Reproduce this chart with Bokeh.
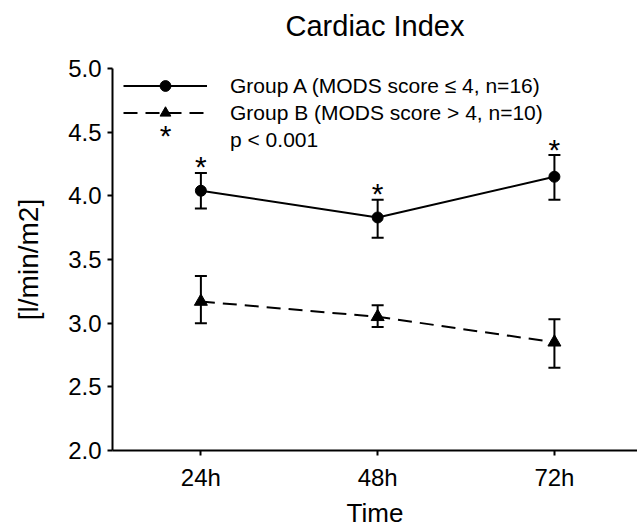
from bokeh.plotting import figure
from bokeh.models import (ColumnDataSource, Whisker, TeeHead, Legend, LegendItem,
                          FixedTicker, NumeralTickFormatter, Label, LinearAxis)
from bokeh.core.properties import value
from bokeh.embed import file_html
from bokeh.resources import INLINE

# ---- data ----
time_labels = ["24h", "48h", "72h"]
a_mean = [4.04, 3.83, 4.15]
a_upper = [4.18, 3.97, 4.32]
a_lower = [3.90, 3.67, 3.97]
b_mean = [3.17, 3.05, 2.85]
b_upper = [3.37, 3.14, 3.03]
b_lower = [3.00, 2.97, 2.65]
sig_marks = ["*", "*", "*"]
y_ticks = [2.0, 2.5, 3.0, 3.5, 4.0, 4.5, 5.0]
title_text = "Cardiac Index"
x_title = "Time"
y_title = "[l/min/m2]"
label_a = "Group A (MODS score \u2264 4, n=16)"
label_b = "Group B (MODS score > 4, n=10)"
label_sig = "p < 0.001"

FONT = "Liberation Sans"
x_pos = [i + 1 for i in range(len(time_labels))]

src_a = ColumnDataSource(dict(x=x_pos, y=a_mean, upper=a_upper, lower=a_lower, s=sig_marks))
src_b = ColumnDataSource(dict(x=x_pos, y=b_mean, upper=b_upper, lower=b_lower))

W, H = 637, 531
B_LEFT, B_TOP, B_BOTTOM = 112, 68, 81
FRAME_W = W - B_LEFT
FRAME_H = H - B_TOP - B_BOTTOM

p = figure(width=W, height=H, output_backend="svg", toolbar_location=None,
           x_range=(0.5, 3.47), y_range=(2.0, 5.0),
           min_border_left=B_LEFT, min_border_right=0, min_border_top=B_TOP,
           min_border_bottom=B_BOTTOM)
p.outline_line_color = None
p.xgrid.visible = False
p.ygrid.visible = False

for ax in (p.xaxis[0], p.yaxis[0]):
    ax.axis_line_width = 2
    ax.axis_line_color = "black"
    ax.major_tick_line_width = 2
    ax.major_tick_line_color = "black"
    ax.major_tick_out = 5
    ax.major_tick_in = 0
    ax.minor_tick_line_color = None
    ax.major_label_text_font = FONT
    ax.major_label_text_font_size = "24px"
    ax.major_label_text_color = "black"
    ax.axis_label_text_font = FONT
    ax.axis_label_text_font_style = "normal"
    ax.axis_label_text_color = "black"

p.xaxis.ticker = FixedTicker(ticks=x_pos)
p.xaxis.major_label_overrides = {x: lab for x, lab in zip(x_pos, time_labels)}
p.xaxis.major_label_standoff = 8
p.xaxis.axis_label = x_title
p.xaxis.axis_label_text_font_size = "26px"
p.xaxis.axis_label_standoff = 4

p.yaxis.ticker = FixedTicker(ticks=y_ticks)
p.yaxis.formatter = NumeralTickFormatter(format="0.0")
p.yaxis.axis_label = y_title
p.yaxis.axis_label_text_font_size = "28px"
p.yaxis.major_label_standoff = 6
p.yaxis.axis_label_standoff = 21

# chart title, carried by a bare axis above the frame
title_axis = LinearAxis(ticker=FixedTicker(ticks=[]), axis_line_color=None,
                        major_tick_line_color=None, minor_tick_line_color=None,
                        major_tick_out=0, major_tick_in=0, major_label_standoff=0,
                        axis_label=title_text, axis_label_standoff=27,
                        axis_label_text_font=FONT, axis_label_text_font_size="29px",
                        axis_label_text_font_style="normal", axis_label_text_color="black")
p.add_layout(title_axis, "above")

# error bars
for src in (src_a, src_b):
    p.add_layout(Whisker(source=src, base="x", upper="upper", lower="lower",
                         line_width=2, line_color="black",
                         upper_head=TeeHead(size=12, line_width=2, line_color="black"),
                         lower_head=TeeHead(size=12, line_width=2, line_color="black")))

ra = p.line("x", "y", source=src_a, line_width=2, line_color="black")
ra_m = p.scatter("x", "y", source=src_a, marker="circle", size=11, color="black")
rb = p.line("x", "y", source=src_b, line_width=2, line_color="black", line_dash="14 8")
rb_m = p.scatter("x", "y", source=src_b, marker="triangle", size=13, color="black")

stars = p.text("x", "upper", text="s", source=src_a, text_align="center",
               text_baseline="middle", y_offset=-6, text_font=value(FONT),
               text_font_size="30px", text_color="black")

# legend
LEG_X, ROW_H, GLYPH_W = 11, 27, 84
LEG_Y = FRAME_H - 3 * ROW_H - 4
legend = Legend(items=[LegendItem(label=label_a, renderers=[ra, ra_m]),
                       LegendItem(label=label_b, renderers=[rb, rb_m]),
                       LegendItem(label=label_sig, renderers=[stars])],
                location=(LEG_X, LEG_Y), orientation="vertical",
                glyph_width=GLYPH_W, glyph_height=ROW_H, label_height=ROW_H, spacing=0,
                padding=0, margin=0, label_standoff=23,
                label_text_font=FONT, label_text_font_size="21px",
                label_text_color="black", border_line_color=None,
                background_fill_alpha=0)
p.add_layout(legend)
# the "*" symbol of the legend's third row
p.add_layout(Label(x=LEG_X + GLYPH_W / 2, y=LEG_Y + ROW_H / 2 + 5, x_units="screen", y_units="screen",
                   text="*", text_align="center", text_baseline="middle",
                   text_font=FONT, text_font_size="30px", text_color="black"))

open("out.html", "w").write(file_html(p, INLINE))
